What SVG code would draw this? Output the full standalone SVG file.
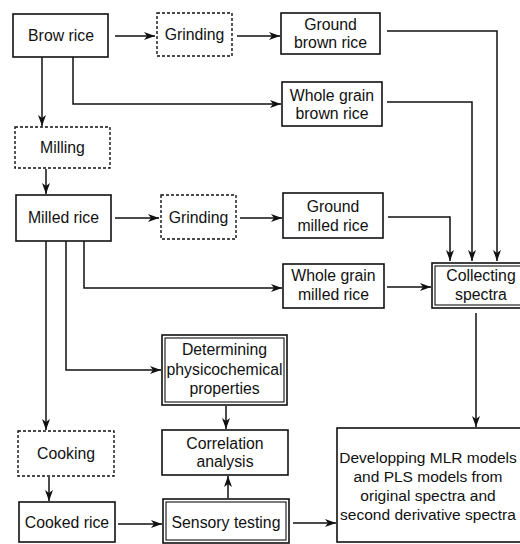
<svg xmlns="http://www.w3.org/2000/svg" width="520" height="544" viewBox="0 0 520 544">
<style>
.box{fill:#fff;stroke:#111;stroke-width:1.6}
.dash{fill:#fff;stroke:#111;stroke-width:1.4;stroke-dasharray:3 2}
.dbl{fill:none;stroke:#111;stroke-width:1.1}
.t{font-family:"Liberation Sans",Arial,sans-serif;font-size:15.8px;fill:#111;text-anchor:middle}
.s{font-size:15.5px}
.c{fill:none;stroke:#111;stroke-width:1.5}
</style>
<defs>
<marker id="ah" markerUnits="userSpaceOnUse" markerWidth="12" markerHeight="10" refX="11" refY="4" orient="auto">
<path d="M0,0 L11,4 L0,8 L3,4 Z" fill="#111"/>
</marker>
</defs>
<rect width="520" height="544" fill="#fff"/>
<g id="connectors" class="c" marker-end="url(#ah)">
<path d="M115,36 H155"/>
<path d="M237,36 H280"/>
<path d="M73,57 V104 H281"/>
<path d="M42,57 V126"/>
<path d="M46,169 V194"/>
<path d="M115,218 H159"/>
<path d="M240,218 H282"/>
<path d="M84,241 V288 H282"/>
<path d="M66,241 V370 H161"/>
<path d="M46,241 V430"/>
<path d="M49,477 V501"/>
<path d="M387,31 H497 V261"/>
<path d="M387,102 H472 V261"/>
<path d="M388,217 H450 V261"/>
<path d="M387,287 H431"/>
<path d="M476,313 V427"/>
<path d="M226,406 V429"/>
<path d="M228,498 V476"/>
<path d="M118,524 H162"/>
<path d="M293,523 H336"/>
</g>
<g id="brow-rice"><rect class="box" x="13" y="14" width="95" height="43"/><text class="t" x="61" y="41">Brow rice</text></g>
<g id="grinding-1"><rect class="dash" x="157" y="13" width="75" height="43"/><text class="t" x="194.5" y="40">Grinding</text></g>
<g id="ground-brown-rice"><rect class="box" x="281" y="13" width="99" height="41"/><text class="t" x="330.5" y="30">Ground</text><text class="t" x="330.5" y="48">brown rice</text></g>
<g id="whole-grain-brown-rice"><rect class="box" x="282" y="82" width="100" height="44"/><text class="t" x="332" y="101">Whole grain</text><text class="t" x="332" y="119">brown rice</text></g>
<g id="milling"><rect class="dash" x="15" y="127" width="95" height="41"/><text class="t" x="62.5" y="153">Milling</text></g>
<g id="milled-rice"><rect class="box" x="16" y="195" width="95" height="46"/><text class="t" x="63.5" y="223">Milled rice</text></g>
<g id="grinding-2"><rect class="dash" x="161" y="195" width="75" height="44"/><text class="t" x="198.5" y="223">Grinding</text></g>
<g id="ground-milled-rice"><rect class="box" x="283" y="193" width="100" height="45"/><text class="t" x="333" y="212">Ground</text><text class="t" x="333" y="231">milled rice</text></g>
<g id="whole-grain-milled-rice"><rect class="box" x="283" y="264" width="101" height="44"/><text class="t" x="333.5" y="281">Whole grain</text><text class="t" x="333.5" y="300">milled rice</text></g>
<g id="collecting-spectra"><rect class="box" x="432" y="263" width="98" height="45"/><rect class="dbl" x="435" y="266" width="92" height="39"/><text class="t" x="481" y="281">Collecting</text><text class="t" x="481" y="300">spectra</text></g>
<g id="determining"><rect class="box" x="162" y="335" width="125" height="70"/><rect class="dbl" x="165" y="338" width="119" height="64"/><text class="t" x="224.5" y="355">Determining</text><text class="t" x="224.5" y="375">physicochemical</text><text class="t" x="224.5" y="394">properties</text></g>
<g id="correlation-analysis"><rect class="box" x="162" y="430" width="126" height="45"/><text class="t" x="225" y="449">Correlation</text><text class="t" x="225" y="467">analysis</text></g>
<g id="cooking"><rect class="dash" x="18" y="431" width="96" height="45"/><text class="t" x="66" y="459">Cooking</text></g>
<g id="cooked-rice"><rect class="box" x="19" y="502" width="96" height="40"/><text class="t" x="67" y="528">Cooked rice</text></g>
<g id="sensory-testing"><rect class="box" x="163" y="499" width="126" height="44"/><rect class="dbl" x="166" y="502" width="120" height="38"/><text class="t" x="226" y="528">Sensory testing</text></g>
<g id="developing"><rect class="box" x="337" y="428" width="193" height="114"/><text class="t s" x="428" y="463">Developping MLR models</text><text class="t s" x="428" y="482">and PLS models from</text><text class="t s" x="428" y="501">original spectra and</text><text class="t s" x="428" y="520">second derivative spectra</text></g>
</svg>
